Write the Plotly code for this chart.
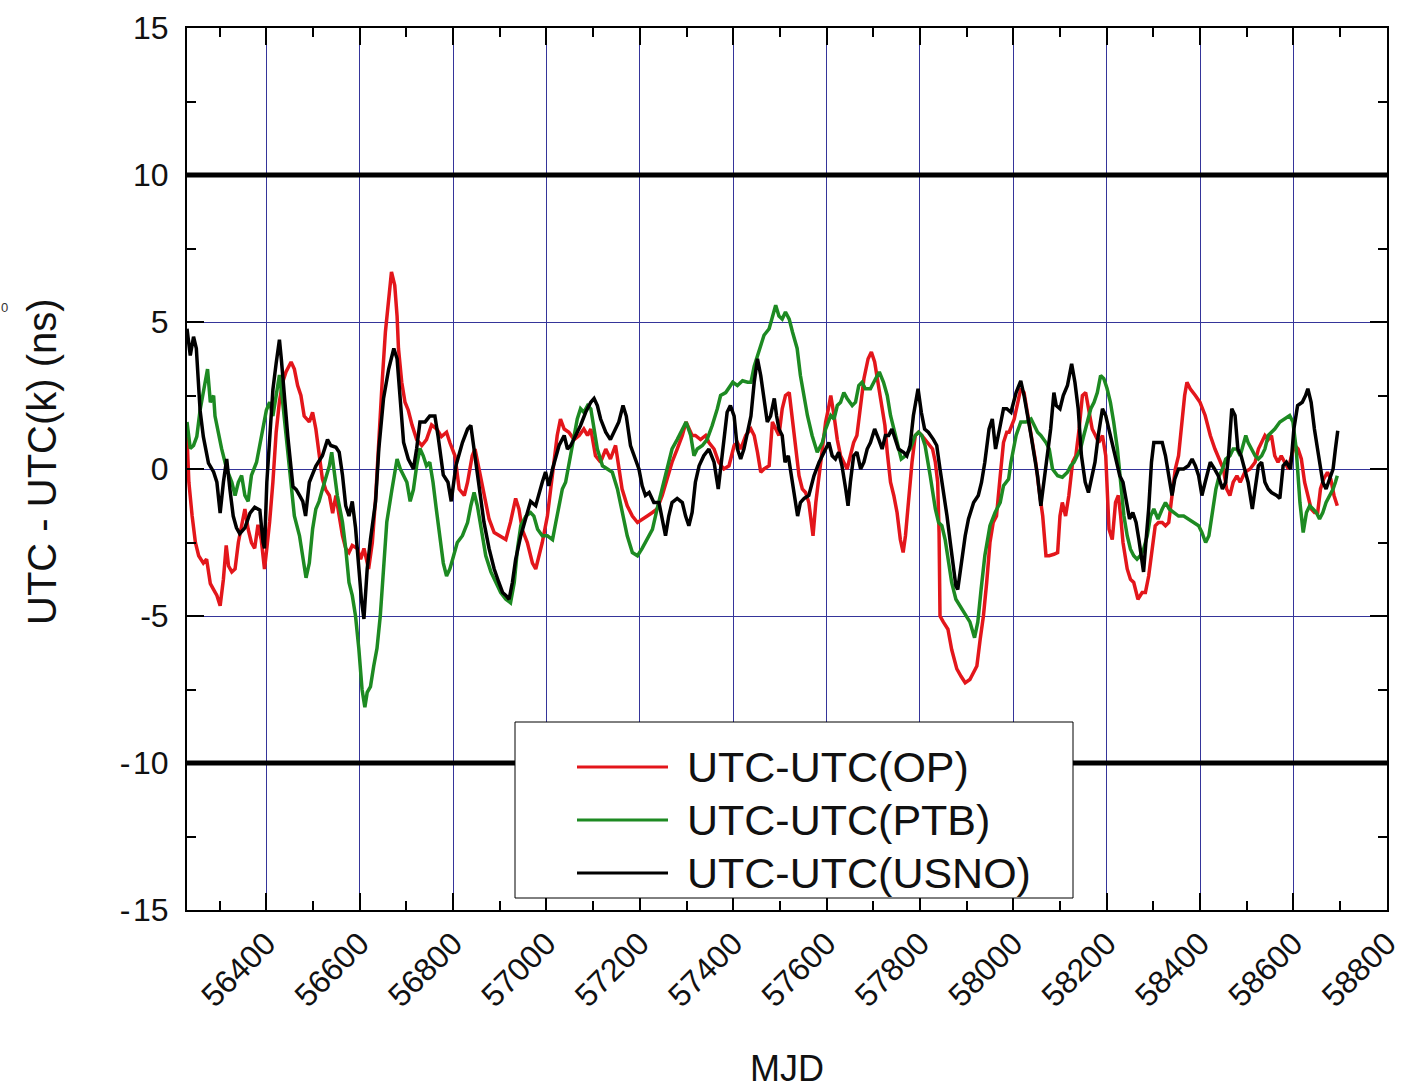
import plotly.graph_objects as go

# ---------------- data ----------------
mjd_op = [56230, 56234, 56241, 56248, 56255, 56265, 56272, 56280, 56287, 56294, 56301, 56308, 56314, 56319, 56326,
          56333, 56340, 56347, 56354, 56361, 56368, 56375, 56382, 56389, 56396, 56401, 56407, 56414, 56421, 56428,
          56435, 56442, 56453, 56460, 56467, 56474, 56481, 56492, 56499, 56506, 56513, 56520, 56527, 56535, 56542,
          56549, 56556, 56563, 56570, 56577, 56584, 56595, 56602, 56609, 56619, 56627, 56634, 56641, 56648, 56655,
          56662, 56668, 56675, 56680, 56683, 56690, 56697, 56704, 56712, 56722, 56733, 56743, 56754, 56765, 56775,
          56786, 56793, 56804, 56813, 56824, 56831, 56841, 56847, 56856, 56866, 56877, 56888, 56898, 56913, 56923,
          56934, 56941, 56948, 56959, 56970, 56977, 56984, 56991, 57002, 57009, 57016, 57023, 57030, 57038, 57048,
          57059, 57070, 57080, 57088, 57095, 57105, 57116, 57127, 57137, 57148, 57155, 57162, 57173, 57184, 57195,
          57205, 57216, 57227, 57237, 57248, 57259, 57269, 57280, 57291, 57299, 57305, 57312, 57319, 57330, 57341,
          57348, 57359, 57369, 57380, 57391, 57402, 57409, 57416, 57427, 57438, 57445, 57452, 57459, 57466, 57477,
          57484, 57491, 57498, 57505, 57512, 57520, 57527, 57534, 57541, 57548, 57555, 57562, 57571, 57577, 57584,
          57591, 57598, 57604, 57609, 57616, 57623, 57630, 57637, 57644, 57651, 57658, 57665, 57673, 57680, 57689,
          57696, 57703, 57710, 57717, 57725, 57730, 57737, 57744, 57751, 57758, 57764, 57769, 57776, 57783, 57790,
          57797, 57804, 57811, 57818, 57827, 57833, 57838, 57841, 57843, 57850, 57860, 57868, 57879, 57888, 57897,
          57907, 57915, 57922, 57929, 57936, 57943, 57950, 57957, 57964, 57972, 57979, 57986, 57991, 58002, 58009,
          58016, 58023, 58031, 58038, 58048, 58055, 58063, 58070, 58077, 58087, 58095, 58100, 58105, 58112, 58119,
          58127, 58134, 58141, 58148, 58155, 58162, 58169, 58176, 58183, 58191, 58198, 58205, 58212, 58219, 58225,
          58230, 58235, 58244, 58251, 58258, 58267, 58276, 58283, 58290, 58297, 58304, 58311, 58319, 58326, 58333,
          58340, 58347, 58354, 58361, 58367, 58372, 58379, 58390, 58400, 58411, 58422, 58432, 58443, 58450, 58457,
          58464, 58471, 58479, 58486, 58496, 58507, 58518, 58525, 58532, 58539, 58546, 58553, 58560, 58567, 58574,
          58582, 58589, 58596, 58603, 58610, 58617, 58624, 58631, 58638, 58645, 58652, 58658, 58665, 58673, 58680,
          58687, 58694]
utc_op = [1.1, -0.45, -1.6, -2.5, -2.95, -3.2, -3.07, -3.9, -4.1, -4.3, -4.65, -3.75, -2.6, -3.3, -3.5,
          -3.4, -2.5, -1.9, -1.36, -2.05, -2.5, -2.7, -1.9, -2.4, -3.4, -2.7, -1.8, -0.45, 1.25, 2.3,
          2.95, 3.3, 3.64, 3.4, 2.84, 2.5, 1.8, 1.6, 1.93, 1.36, 0.57, -0.34, -0.7, -0.9, -1.5,
          -0.9, -1.6, -2.27, -2.7, -2.84, -2.6, -2.7, -3.07, -2.7, -3.4, -2.5, -1.0, 1.1, 2.95, 4.66,
          5.8, 6.7, 6.25, 5.2, 4.1, 2.95, 2.27, 2.0, 1.5, 1.0, 0.8, 1.0, 1.5, 1.36, 1.1,
          1.25, 0.9, 0.45, -0.68, -0.9, -0.45, 0.45, 0.68, 0.0, -0.8, -1.7, -2.16, -2.27, -2.4, -1.8,
          -1.0, -1.36, -2.05, -2.5, -3.2, -3.4, -2.95, -2.5, -1.6, -0.68, 0.34, 1.14, 1.7, 1.36, 1.25,
          1.0, 1.14, 1.36, 1.14, 1.36, 0.45, 0.23, 0.68, 0.34, 0.8, 0.11, -0.68, -1.25, -1.6, -1.82,
          -1.7, -1.6, -1.48, -1.36, -0.9, -0.34, 0.23, 0.68, 1.14, 1.6, 1.36, 1.14, 1.14, 1.0, 1.14,
          0.9, 0.68, 0.23, 0.0, 0.11, 0.8, 0.9, 0.68, 1.14, 1.36, 1.14, 0.57, -0.11, 0.0, 0.11,
          1.6, 1.36, 1.14, 2.05, 2.5, 2.6, 1.6, 0.68, -0.23, -0.68, -0.8, -1.14, -2.27, -1.14, -0.23,
          0.9, 1.6, 2.05, 2.5, 1.82, 1.0, 0.45, 0.23, 0.0, 0.45, 0.9, 1.14, 2.16, 3.07, 3.75,
          3.98, 3.64, 2.95, 2.27, 1.48, 0.57, -0.45, -0.9, -1.48, -2.4, -2.84, -2.27, -1.0, 0.23, 1.14,
          1.25, 1.14, 1.0, 0.9, 0.68, 0.23, -0.45, -2.16, -5.0, -5.2, -5.45, -6.14, -6.8, -7.05, -7.27,
          -7.16, -6.93, -6.7, -5.8, -5.0, -3.86, -2.5, -1.82, -1.6, -0.23, 0.9, 1.25, 1.25, 1.7, 2.27,
          2.73, 2.6, 1.82, 1.14, 0.23, -0.68, -1.6, -2.95, -2.95, -2.9, -2.84, -1.6, -1.14, -1.6, -0.9,
          0.23, 0.45, 1.36, 2.5, 2.6, 2.05, 1.36, 1.14, 0.9, 1.14, 0.45, -2.05, -2.4, -1.14, -0.9,
          -1.6, -2.5, -3.4, -3.75, -3.86, -4.43, -4.2, -4.2, -3.64, -2.73, -1.93, -1.82, -1.82, -1.93, -1.82,
          -0.9, 0.0, 0.45, 1.6, 2.5, 2.95, 2.73, 2.5, 2.27, 1.82, 1.14, 0.68, 0.23, 0.0, -0.68,
          -0.9, -0.45, -0.23, -0.45, -0.11, 0.0, 0.23, 0.68, 0.9, 1.14, 1.0, 1.14, 0.45, 0.23, 0.45,
          0.23, 0.0, 0.45, 0.8, 0.68, 0.34, -0.45, -0.9, -1.36, -1.48, -1.48, -0.68, -0.34, -0.11, -0.34,
          -0.9, -1.25]

mjd_ptb = [56230, 56237, 56244, 56251, 56258, 56269, 56274, 56280, 56287, 56290, 56297, 56304, 56315, 56326, 56333,
           56340, 56347, 56354, 56361, 56368, 56379, 56389, 56400, 56407, 56414, 56421, 56428, 56435, 56442, 56453,
           56460, 56471, 56479, 56485, 56492, 56499, 56506, 56513, 56520, 56527, 56535, 56540, 56545, 56552, 56563,
           56570, 56577, 56584, 56591, 56598, 56605, 56611, 56616, 56623, 56630, 56637, 56644, 56651, 56658, 56669,
           56680, 56687, 56694, 56701, 56708, 56715, 56722, 56729, 56736, 56743, 56750, 56757, 56764, 56772, 56779,
           56786, 56793, 56799, 56809, 56820, 56831, 56838, 56845, 56852, 56859, 56870, 56881, 56891, 56902, 56913,
           56923, 56931, 56938, 56945, 56956, 56966, 56973, 56981, 56991, 57002, 57013, 57020, 57027, 57034, 57041,
           57052, 57059, 57066, 57073, 57080, 57088, 57095, 57102, 57109, 57120, 57130, 57141, 57152, 57162, 57173,
           57184, 57195, 57205, 57216, 57227, 57237, 57248, 57259, 57269, 57280, 57291, 57299, 57309, 57316, 57323,
           57334, 57344, 57355, 57366, 57373, 57384, 57394, 57399, 57409, 57420, 57431, 57438, 57445, 57456, 57466,
           57477, 57484, 57491, 57498, 57505, 57512, 57520, 57527, 57537, 57544, 57552, 57559, 57569, 57580, 57591,
           57598, 57609, 57616, 57623, 57630, 57637, 57644, 57655, 57662, 57669, 57676, 57683, 57694, 57705, 57713,
           57722, 57730, 57737, 57744, 57751, 57760, 57769, 57779, 57790, 57797, 57804, 57811, 57822, 57833, 57840,
           57847, 57854, 57861, 57868, 57877, 57886, 57897, 57907, 57917, 57924, 57931, 57939, 57950, 57961, 57972,
           57979, 57990, 57995, 58006, 58016, 58027, 58038, 58045, 58052, 58059, 58070, 58077, 58084, 58095, 58105,
           58116, 58123, 58130, 58137, 58144, 58151, 58159, 58166, 58173, 58180, 58187, 58194, 58201, 58208, 58215,
           58223, 58230, 58237, 58244, 58251, 58258, 58265, 58272, 58279, 58287, 58294, 58301, 58310, 58319, 58326,
           58334, 58343, 58354, 58365, 58375, 58386, 58397, 58404, 58412, 58419, 58427, 58434, 58441, 58448, 58455,
           58464, 58471, 58479, 58486, 58493, 58498, 58503, 58511, 58518, 58525, 58532, 58539, 58546, 58553, 58560,
           58571, 58582, 58592, 58599, 58606, 58614, 58621, 58628, 58635, 58642, 58649, 58656, 58663, 58670, 58678,
           58685, 58690, 58694]
utc_ptb = [1.6, 0.7, 0.8, 1.1, 2.0, 2.95, 3.4, 2.27, 2.5, 1.8, 1.25, 0.7, 0.0, -0.45, -0.9,
           -0.45, -0.22, -0.9, -1.1, -0.22, 0.23, 1.1, 2.0, 2.27, 1.8, 2.5, 3.2, 2.27, 1.1, -0.45,
           -1.6, -2.27, -3.2, -3.7, -3.2, -2.05, -1.36, -1.1, -0.7, -0.34, 0.11, 0.57, 0.0, -0.9, -1.8,
           -2.7, -3.86, -4.3, -5.0, -6.1, -7.5, -8.1, -7.6, -7.4, -6.7, -6.1, -5.0, -3.3, -1.8, -0.7,
           0.34, 0.0, -0.22, -0.45, -1.1, -0.7, 0.11, 0.7, 0.45, 0.11, 0.23, -0.45, -1.36, -2.27, -3.2,
           -3.64, -3.4, -3.07, -2.5, -2.27, -1.82, -1.25, -0.8, -1.25, -1.93, -2.95, -3.5, -3.86, -4.2, -4.43,
           -4.55, -3.86, -2.7, -1.93, -1.6, -1.48, -1.6, -2.05, -2.27, -2.27, -2.4, -1.82, -1.25, -0.68, -0.45,
           0.45, 1.14, 1.7, 2.05, 1.93, 2.16, 2.05, 1.36, 0.68, 0.11, 0.0, -0.11, -0.68, -1.48, -2.27,
           -2.84, -2.95, -2.7, -2.4, -2.05, -1.36, -0.68, 0.11, 0.68, 1.0, 1.36, 1.6, 1.14, 0.45, 0.68,
           0.8, 1.0, 1.48, 2.05, 2.5, 2.6, 2.84, 2.95, 2.84, 3.0, 2.95, 2.95, 3.5, 4.1, 4.55,
           4.77, 5.2, 5.57, 5.2, 5.1, 5.34, 5.1, 4.66, 4.1, 3.18, 2.5, 1.82, 1.14, 0.57, 0.9,
           1.36, 1.82, 1.7, 2.16, 2.27, 2.6, 2.4, 2.16, 2.27, 2.84, 2.95, 2.73, 2.73, 3.07, 3.3,
           2.95, 2.5, 1.82, 1.36, 0.9, 0.34, 0.45, 0.68, 1.14, 1.25, 1.14, 0.8, -0.23, -1.36, -1.82,
           -1.93, -2.4, -3.07, -3.86, -4.43, -4.66, -4.9, -5.2, -5.74, -5.2, -4.1, -2.95, -1.93, -1.48, -1.14,
           -0.57, -0.34, 0.23, 1.14, 1.6, 1.6, 1.7, 1.48, 1.25, 1.14, 0.9, 0.68, 0.0, -0.23, -0.28,
           -0.11, 0.11, 0.23, 0.45, 0.68, 1.14, 1.6, 2.05, 2.27, 2.6, 3.18, 3.07, 2.73, 2.27, 1.6,
           0.68, -0.45, -1.6, -2.27, -2.73, -2.95, -3.07, -2.95, -2.73, -2.27, -1.6, -1.36, -1.7, -1.36, -1.14,
           -1.36, -1.48, -1.6, -1.6, -1.7, -1.82, -1.93, -2.16, -2.5, -2.27, -1.36, -0.68, -0.23, 0.0, 0.34,
           0.45, 0.68, 0.68, 0.45, 0.9, 1.14, 0.9, 0.68, 0.45, 0.34, 0.45, 0.68, 1.14, 1.25, 1.36,
           1.6, 1.7, 1.82, 1.6, 0.68, -1.14, -2.16, -1.48, -1.25, -1.36, -1.48, -1.7, -1.48, -1.14, -0.9,
           -0.68, -0.45, -0.23]

mjd_usno = [56230, 56237, 56244, 56250, 56258, 56265, 56276, 56287, 56294, 56301, 56308, 56315, 56322, 56329, 56336,
            56343, 56354, 56365, 56375, 56386, 56393, 56396, 56401, 56407, 56414, 56421, 56428, 56432, 56439, 56446,
            56457, 56464, 56471, 56478, 56484, 56492, 56506, 56520, 56531, 56538, 56549, 56556, 56563, 56570, 56577,
            56584, 56591, 56598, 56604, 56609, 56616, 56623, 56634, 56641, 56651, 56662, 56673, 56680, 56687, 56694,
            56704, 56715, 56722, 56729, 56740, 56750, 56761, 56768, 56779, 56789, 56796, 56806, 56820, 56831, 56838,
            56845, 56852, 56859, 56866, 56877, 56888, 56898, 56906, 56913, 56920, 56927, 56934, 56945, 56956, 56966,
            56977, 56984, 56991, 56998, 57005, 57013, 57020, 57027, 57038, 57045, 57052, 57063, 57073, 57084, 57095,
            57102, 57109, 57116, 57127, 57137, 57145, 57155, 57164, 57171, 57180, 57191, 57198, 57205, 57212, 57220,
            57230, 57241, 57248, 57255, 57262, 57269, 57280, 57291, 57298, 57305, 57312, 57319, 57327, 57337, 57348,
            57359, 57368, 57373, 57380, 57387, 57394, 57402, 57409, 57416, 57423, 57431, 57438, 57445, 57452, 57459,
            57466, 57473, 57480, 57488, 57493, 57498, 57505, 57511, 57518, 57525, 57532, 57538, 57544, 57552, 57562,
            57573, 57584, 57594, 57605, 57612, 57619, 57626, 57633, 57641, 57646, 57651, 57658, 57665, 57673, 57680,
            57687, 57694, 57703, 57712, 57719, 57726, 57733, 57740, 57747, 57754, 57765, 57772, 57779, 57786, 57796,
            57803, 57810, 57818, 57829, 57836, 57843, 57850, 57858, 57865, 57872, 57877, 57881, 57888, 57897, 57904,
            57915, 57925, 57932, 57939, 57948, 57955, 57962, 57972, 57979, 57986, 57995, 58006, 58016, 58023, 58031,
            58038, 58045, 58052, 58059, 58066, 58073, 58080, 58087, 58092, 58100, 58107, 58116, 58125, 58132, 58139,
            58146, 58154, 58161, 58168, 58175, 58182, 58191, 58198, 58205, 58212, 58219, 58228, 58235, 58242, 58249,
            58256, 58263, 58269, 58274, 58279, 58284, 58290, 58296, 58301, 58308, 58319, 58326, 58333, 58340, 58346,
            58354, 58365, 58375, 58383, 58390, 58397, 58404, 58411, 58422, 58431, 58439, 58448, 58455, 58461, 58468,
            58475, 58481, 58488, 58496, 58503, 58512, 58518, 58525, 58532, 58539, 58546, 58553, 58564, 58571, 58578,
            58585, 58594, 58601, 58609, 58619, 58626, 58631, 58638, 58645, 58654, 58663, 58670, 58678, 58685, 58690,
            58695]
utc_usno = [4.77, 3.86, 4.5, 4.1, 2.0, 1.1, 0.2, -0.1, -0.45, -1.5, -0.45, 0.34, -0.7, -1.6, -2.0,
            -2.2, -2.0, -1.5, -1.3, -1.4, -2.5, -2.7, -0.45, 1.1, 2.7, 3.6, 4.4, 3.75, 2.4, 1.1,
            -0.6, -0.7, -0.9, -1.1, -1.6, -0.45, 0.1, 0.45, 1.0, 0.8, 0.74, 0.57, -0.2, -1.25, -1.6,
            -1.1, -2.0, -3.4, -4.5, -5.1, -3.4, -2.4, -1.1, 0.7, 2.4, 3.4, 4.1, 3.75, 2.3, 0.9,
            0.34, 0.0, 0.7, 1.6, 1.6, 1.8, 1.8, 1.1, -0.2, -0.45, -1.1, 0.11, 0.9, 1.36, 1.48,
            0.68, -0.2, -0.9, -1.8, -2.7, -3.4, -3.86, -4.2, -4.3, -4.43, -3.86, -3.07, -2.27, -1.6, -1.1,
            -1.25, -0.8, -0.45, -0.1, -0.57, 0.0, 0.45, 0.8, 1.14, 0.68, 0.8, 1.14, 1.48, 1.93, 2.27,
            2.4, 2.16, 1.7, 1.25, 1.0, 1.25, 1.6, 2.16, 1.8, 0.8, 0.34, 0.0, -0.57, -0.9, -0.8,
            -1.14, -1.14, -1.7, -2.27, -1.6, -1.14, -1.0, -1.14, -1.6, -1.93, -1.48, -0.45, 0.11, 0.45, 0.68,
            0.23, -0.68, 0.0, 1.14, 1.93, 2.16, 1.8, 0.68, 0.34, 0.68, 1.36, 1.8, 2.95, 3.75, 3.18,
            2.4, 1.6, 1.8, 2.4, 1.8, 1.36, 1.14, 0.23, 0.45, -0.23, -0.9, -1.6, -1.14, -1.0, -0.9,
            -0.23, 0.23, 0.57, 0.9, 0.45, 0.34, 0.57, 0.11, -0.68, -1.25, -0.45, 0.45, 0.57, 0.0, 0.23,
            0.68, 0.9, 1.36, 1.0, 0.68, 1.14, 1.14, 1.36, 1.0, 0.68, 0.57, 0.45, 0.8, 1.82, 2.73,
            1.93, 1.36, 1.25, 1.0, 0.8, 0.0, -0.68, -1.6, -2.5, -3.4, -3.98, -4.1, -3.3, -2.27, -1.7,
            -1.14, -0.9, -0.45, 0.23, 1.36, 1.7, 0.68, 1.48, 2.05, 2.05, 1.93, 2.6, 3.0, 2.5, 1.82,
            1.14, 0.45, -0.23, -1.25, -0.45, 0.45, 1.36, 2.6, 2.16, 2.05, 2.5, 2.84, 3.58, 2.95, 2.05,
            0.45, -0.45, -0.8, -0.34, 0.23, 1.14, 2.05, 1.82, 1.36, 0.9, 0.45, -0.23, -0.45, -1.14, -1.7,
            -1.48, -1.82, -2.4, -3.07, -3.5, -2.5, -1.36, 0.23, 0.9, 0.9, 0.9, 0.45, -0.23, -0.9, -0.34,
            0.0, 0.0, 0.11, 0.34, 0.11, -0.23, -0.9, -0.45, 0.23, 0.0, -0.23, -0.68, -0.45, 0.45, 2.05,
            1.82, 0.68, 0.45, 0.0, -0.45, -1.36, -0.68, 0.11, 0.23, -0.45, -0.68, -0.8, -0.9, -1.0, 0.11,
            0.23, 0.0, 1.36, 2.16, 2.27, 2.5, 2.73, 2.27, 1.36, 0.45, -0.45, -0.68, -0.34, 0.0, 0.68,
            1.3]

series_names = ["UTC-UTC(OP)", "UTC-UTC(PTB)", "UTC-UTC(USNO)"]
series_colors = ["#e3161b", "#1d8a22", "#000000"]

x_tickvals = [56400, 56600, 56800, 57000, 57200, 57400, 57600, 57800, 58000, 58200, 58400, 58600, 58800]
x_ticktext = [str(v) for v in x_tickvals]
y_tickvals = [-15, -10, -5, 0, 5, 10, 15]
y_ticktext = ["-\u200a15", "-\u200a10", "-5", "0", "5", "10", "15"]
limit_values = [10, -10]

# ---------------- figure ----------------
W, H = 1403, 1091
L, R, T, B = 187, 1387, 28, 910


def px(x):
    return (x - L) / (R - L)


def py(y):
    return (B - y) / (B - T)


FONT = "Arial, 'Liberation Sans', sans-serif"
fig = go.Figure()

for xs, ys, name, col in zip([mjd_op, mjd_ptb, mjd_usno], [utc_op, utc_ptb, utc_usno], series_names, series_colors):
    fig.add_trace(go.Scatter(x=xs, y=ys, mode="lines", name=name,
                             line=dict(color=col, width=3.5), showlegend=False))

shapes = []
for v in limit_values:
    shapes.append(dict(type="line", xref="paper", yref="y", x0=0, x1=1, y0=v, y1=v,
                       line=dict(color="black", width=5), layer="above"))

# legend box drawn by hand (long line samples as in the reference)
shapes.append(dict(type="rect", xref="paper", yref="paper", x0=px(515), x1=px(1073), y0=py(898), y1=py(722),
                   line=dict(color="black", width=1), fillcolor="white", layer="above"))
annotations = []
row_y = [767, 820, 873]
for ry, name, col in zip(row_y, series_names, series_colors):
    shapes.append(dict(type="line", xref="paper", yref="paper", x0=px(577), x1=px(668), y0=py(ry), y1=py(ry),
                       line=dict(color=col, width=3), layer="above"))
    annotations.append(dict(text=name, xref="paper", yref="paper", x=px(685), y=py(ry), xanchor="left",
                            yanchor="middle", showarrow=False, font=dict(family=FONT, size=43, color="#111")))

annotations.append(dict(text="MJD", xref="paper", yref="paper", x=px(787), y=py(1068), xanchor="center",
                        yanchor="middle", showarrow=False, font=dict(family=FONT, size=36, color="#111")))
annotations.append(dict(text="UTC - UTC(k) (ns)", xref="paper", yref="paper", x=px(42), y=py(462),
                        xanchor="center", yanchor="middle", textangle=-90, showarrow=False,
                        font=dict(family=FONT, size=40, color="#111")))
annotations.append(dict(text="0", xref="paper", yref="paper", x=px(4), y=py(307), xanchor="center",
                        yanchor="middle", showarrow=False, font=dict(family=FONT, size=13, color="#333")))

grid_col = "#35359a"
fig.update_layout(
    width=W, height=H,
    margin=dict(l=L, r=W - R, t=T, b=H - B, pad=0, autoexpand=False),
    paper_bgcolor="white", plot_bgcolor="white",
    showlegend=False,
    shapes=shapes, annotations=annotations,
    font=dict(family=FONT, color="#111"),
    xaxis=dict(range=[56230, 58800.5], tickmode="array", tickvals=x_tickvals, ticktext=x_ticktext,
               tickangle=-45, tickfont=dict(size=32, family=FONT, color="#111"),
               ticklabeloverflow="allow", automargin=False,
               ticks="inside", ticklen=17, tickwidth=2, tickcolor="black",
               showline=True, linecolor="black", linewidth=2, mirror="ticks",
               showgrid=True, gridcolor=grid_col, gridwidth=1, zeroline=False,
               minor=dict(dtick=100, tick0=56400, ticks="inside", ticklen=9, tickwidth=2,
                          tickcolor="black", showgrid=False)),
    yaxis=dict(range=[-15, 15], tickmode="array", tickvals=y_tickvals, ticktext=y_ticktext,
               tickfont=dict(size=32, family=FONT, color="#111"),
               automargin=False,
               ticks="inside", ticklen=17, tickwidth=2, tickcolor="black",
               showline=True, linecolor="black", linewidth=2, mirror="ticks",
               showgrid=True, gridcolor=grid_col, gridwidth=1, zeroline=False,
               ticklabelstandoff=10,
               minor=dict(dtick=2.5, tick0=0, ticks="inside", ticklen=9, tickwidth=2,
                          tickcolor="black", showgrid=False)),
)

fig.write_html("out.html")
